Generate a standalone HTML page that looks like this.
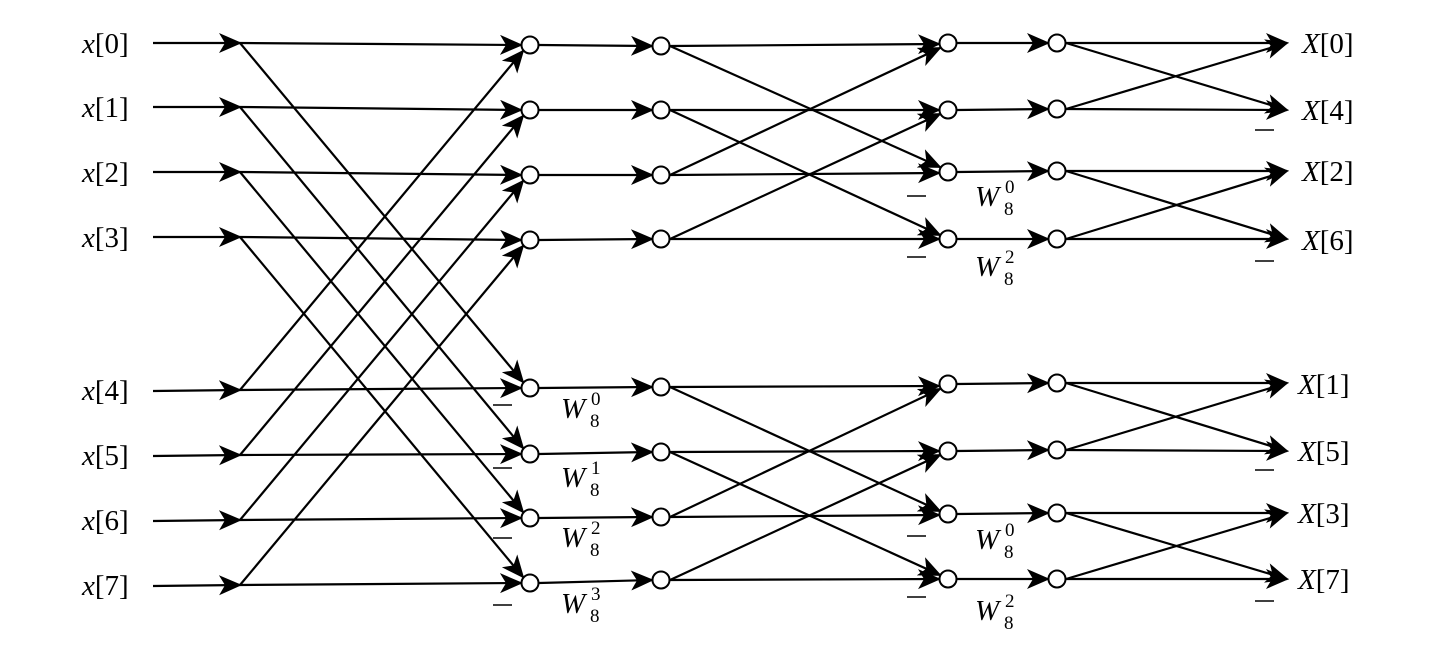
<!DOCTYPE html>
<html><head><meta charset="utf-8"><style>
html,body{margin:0;padding:0;background:#fff;}
svg{display:block;}
text{font-family:"Liberation Serif","DejaVu Serif",serif;fill:#000;}
</style></head><body>
<svg width="1440" height="657" viewBox="0 0 1440 657" xmlns="http://www.w3.org/2000/svg">
<defs>
<marker id="a" markerUnits="userSpaceOnUse" markerWidth="26" markerHeight="22" refX="21" refY="10" orient="auto">
<path d="M0,0 L23,10 L0,20 L6,10 Z" fill="#000"/>
</marker>
</defs>
<g stroke="#000" stroke-width="2.2" fill="none" marker-end="url(#a)">
<line x1="153" y1="43" x2="240" y2="43"/>
<line x1="153" y1="107" x2="240" y2="107"/>
<line x1="153" y1="172" x2="240" y2="172"/>
<line x1="153" y1="237" x2="240" y2="237"/>
<line x1="153" y1="391" x2="240" y2="390"/>
<line x1="153" y1="456" x2="240" y2="455"/>
<line x1="153" y1="521" x2="240" y2="520"/>
<line x1="153" y1="586" x2="240" y2="585"/>
<line x1="240" y1="43" x2="521" y2="45"/>
<line x1="240" y1="107" x2="521" y2="110"/>
<line x1="240" y1="172" x2="521" y2="175"/>
<line x1="240" y1="237" x2="521" y2="240"/>
<line x1="240" y1="390" x2="521" y2="388"/>
<line x1="240" y1="455" x2="521" y2="454"/>
<line x1="240" y1="520" x2="521" y2="518"/>
<line x1="240" y1="585" x2="521" y2="583"/>
<line x1="240" y1="43" x2="523" y2="382"/>
<line x1="240" y1="107" x2="523" y2="448"/>
<line x1="240" y1="172" x2="523" y2="512"/>
<line x1="240" y1="237" x2="523" y2="577"/>
<line x1="240" y1="390" x2="523" y2="51"/>
<line x1="240" y1="455" x2="523" y2="116"/>
<line x1="240" y1="520" x2="523" y2="181"/>
<line x1="240" y1="585" x2="523" y2="246"/>
<line x1="539" y1="45" x2="652" y2="46"/>
<line x1="539" y1="110" x2="652" y2="110"/>
<line x1="539" y1="175" x2="652" y2="175"/>
<line x1="539" y1="240" x2="652" y2="239"/>
<line x1="539" y1="388" x2="652" y2="387"/>
<line x1="539" y1="454" x2="652" y2="452"/>
<line x1="539" y1="518" x2="652" y2="517"/>
<line x1="539" y1="583" x2="652" y2="580"/>
<line x1="670" y1="46" x2="939" y2="44"/>
<line x1="670" y1="46" x2="940" y2="167"/>
<line x1="670" y1="110" x2="939" y2="110"/>
<line x1="670" y1="110" x2="940" y2="235"/>
<line x1="670" y1="175" x2="939" y2="173"/>
<line x1="670" y1="175" x2="940" y2="48"/>
<line x1="670" y1="239" x2="939" y2="239"/>
<line x1="670" y1="239" x2="940" y2="114"/>
<line x1="670" y1="387" x2="939" y2="386"/>
<line x1="670" y1="387" x2="940" y2="511"/>
<line x1="670" y1="452" x2="939" y2="451"/>
<line x1="670" y1="452" x2="940" y2="575"/>
<line x1="670" y1="517" x2="939" y2="515"/>
<line x1="670" y1="517" x2="940" y2="389"/>
<line x1="670" y1="580" x2="939" y2="579"/>
<line x1="670" y1="580" x2="940" y2="455"/>
<line x1="957" y1="43" x2="1048" y2="43"/>
<line x1="957" y1="110" x2="1048" y2="109"/>
<line x1="957" y1="172" x2="1048" y2="171"/>
<line x1="957" y1="239" x2="1048" y2="239"/>
<line x1="957" y1="384" x2="1048" y2="383"/>
<line x1="957" y1="451" x2="1048" y2="450"/>
<line x1="957" y1="514" x2="1048" y2="513"/>
<line x1="957" y1="579" x2="1048" y2="579"/>
<line x1="1066" y1="43" x2="1287" y2="43"/>
<line x1="1066" y1="43" x2="1287" y2="110"/>
<line x1="1066" y1="109" x2="1287" y2="43"/>
<line x1="1066" y1="109" x2="1287" y2="110"/>
<line x1="1066" y1="171" x2="1287" y2="171"/>
<line x1="1066" y1="171" x2="1287" y2="239"/>
<line x1="1066" y1="239" x2="1287" y2="171"/>
<line x1="1066" y1="239" x2="1287" y2="239"/>
<line x1="1066" y1="383" x2="1287" y2="383"/>
<line x1="1066" y1="383" x2="1287" y2="451"/>
<line x1="1066" y1="450" x2="1287" y2="383"/>
<line x1="1066" y1="450" x2="1287" y2="451"/>
<line x1="1066" y1="513" x2="1287" y2="513"/>
<line x1="1066" y1="513" x2="1287" y2="579"/>
<line x1="1066" y1="579" x2="1287" y2="513"/>
<line x1="1066" y1="579" x2="1287" y2="579"/>
</g>
<g stroke="#000" stroke-width="2" fill="#fff">
<circle cx="530" cy="45" r="8.5"/><circle cx="530" cy="110" r="8.5"/><circle cx="530" cy="175" r="8.5"/><circle cx="530" cy="240" r="8.5"/>
<circle cx="530" cy="388" r="8.5"/><circle cx="530" cy="454" r="8.5"/><circle cx="530" cy="518" r="8.5"/><circle cx="530" cy="583" r="8.5"/>
<circle cx="661" cy="46" r="8.5"/><circle cx="661" cy="110" r="8.5"/><circle cx="661" cy="175" r="8.5"/><circle cx="661" cy="239" r="8.5"/>
<circle cx="661" cy="387" r="8.5"/><circle cx="661" cy="452" r="8.5"/><circle cx="661" cy="517" r="8.5"/><circle cx="661" cy="580" r="8.5"/>
<circle cx="948" cy="43" r="8.5"/><circle cx="948" cy="110" r="8.5"/><circle cx="948" cy="172" r="8.5"/><circle cx="948" cy="239" r="8.5"/>
<circle cx="948" cy="384" r="8.5"/><circle cx="948" cy="451" r="8.5"/><circle cx="948" cy="514" r="8.5"/><circle cx="948" cy="579" r="8.5"/>
<circle cx="1057" cy="43" r="8.5"/><circle cx="1057" cy="109" r="8.5"/><circle cx="1057" cy="171" r="8.5"/><circle cx="1057" cy="239" r="8.5"/>
<circle cx="1057" cy="383" r="8.5"/><circle cx="1057" cy="450" r="8.5"/><circle cx="1057" cy="513" r="8.5"/><circle cx="1057" cy="579" r="8.5"/>
</g>
<g stroke="#000" stroke-width="1.5">
<line x1="493" y1="405" x2="512" y2="405"/><line x1="493" y1="468" x2="512" y2="468"/><line x1="493" y1="538" x2="512" y2="538"/><line x1="493" y1="605" x2="512" y2="605"/>
<line x1="907" y1="196" x2="926" y2="196"/><line x1="907" y1="257" x2="926" y2="257"/><line x1="907" y1="536" x2="926" y2="536"/><line x1="907" y1="597" x2="926" y2="597"/>
<line x1="1255" y1="130" x2="1274" y2="130"/><line x1="1255" y1="261" x2="1274" y2="261"/><line x1="1255" y1="470" x2="1274" y2="470"/><line x1="1255" y1="601" x2="1274" y2="601"/>
</g>
<g font-size="29">
<text x="82" y="53"><tspan font-style="italic">x</tspan>[0]</text>
<text x="82" y="117"><tspan font-style="italic">x</tspan>[1]</text>
<text x="82" y="182"><tspan font-style="italic">x</tspan>[2]</text>
<text x="82" y="247"><tspan font-style="italic">x</tspan>[3]</text>
<text x="82" y="400"><tspan font-style="italic">x</tspan>[4]</text>
<text x="82" y="465"><tspan font-style="italic">x</tspan>[5]</text>
<text x="82" y="530"><tspan font-style="italic">x</tspan>[6]</text>
<text x="82" y="595"><tspan font-style="italic">x</tspan>[7]</text>
<text x="1302" y="53"><tspan font-style="italic">X</tspan>[0]</text>
<text x="1302" y="120"><tspan font-style="italic">X</tspan>[4]</text>
<text x="1302" y="181"><tspan font-style="italic">X</tspan>[2]</text>
<text x="1302" y="250"><tspan font-style="italic">X</tspan>[6]</text>
<text x="1298" y="394"><tspan font-style="italic">X</tspan>[1]</text>
<text x="1298" y="461"><tspan font-style="italic">X</tspan>[5]</text>
<text x="1298" y="523"><tspan font-style="italic">X</tspan>[3]</text>
<text x="1298" y="589"><tspan font-style="italic">X</tspan>[7]</text>
</g>
<g font-size="29" font-style="italic">
<text x="561" y="418">W</text><text x="561" y="487">W</text><text x="561" y="547">W</text><text x="561" y="613">W</text>
<text x="975" y="206">W</text><text x="975" y="276">W</text><text x="975" y="549">W</text><text x="975" y="620">W</text>
</g>
<g font-size="19">
<text x="591" y="405">0</text><text x="590" y="427">8</text>
<text x="591" y="474">1</text><text x="590" y="496">8</text>
<text x="591" y="534">2</text><text x="590" y="556">8</text>
<text x="591" y="600">3</text><text x="590" y="622">8</text>
<text x="1005" y="193">0</text><text x="1004" y="215">8</text>
<text x="1005" y="263">2</text><text x="1004" y="285">8</text>
<text x="1005" y="536">0</text><text x="1004" y="558">8</text>
<text x="1005" y="607">2</text><text x="1004" y="629">8</text>
</g>
</svg>
</body></html>
